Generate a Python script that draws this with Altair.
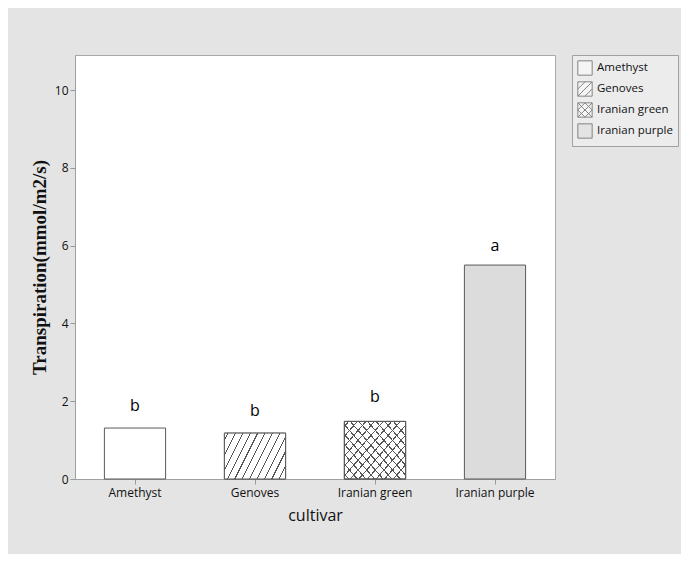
import math
import altair as alt
import pandas as pd

# ---- data ----
cultivars = ["Amethyst", "Genoves", "Iranian green", "Iranian purple"]
transpiration = [1.31, 1.18, 1.48, 5.50]
letters = ["b", "b", "b", "a"]
letter_y = [1.88, 1.74, 2.11, 6.00]
fills = ["#ffffff", "#ffffff", "#ffffff", "#dcdcdc"]
y_ticks = [0, 2, 4, 6, 8, 10]

# legend symbol outlines (square, square + "/" hatch, square + cross hatch, square)
shapes = [
    "square",
    "M-1,-1H1V1H-1Z M-1,1L1,-1 M-1,0L0,-1 M0,1L1,0",
    "M-1,-1H1V1H-1Z M-1,-1L1,1 M-1,1L1,-1 M0,-1L1,0 M1,0L0,1 M0,1L-1,0 M-1,0L0,-1",
    "square",
]

df = pd.DataFrame({
    "cultivar": cultivars,
    "value": transpiration,
    "letter": letters,
    "letter_y": letter_y,
})

W, H = 480, 424
Y_MAX = 10.9
P_IN, P_OUT = 0.49, 0.245
PPU = H / Y_MAX
STEP = W / (len(cultivars) - P_IN + 2 * P_OUT)
BW = STEP * (1 - P_IN)
EDGE = "#5a5a5a"


def hatch(value, k, spacing, direction, bg, fg, lw=1.0):
    """Striped linear gradient (bounding-box units) imitating a hatch fill.
    direction "up" gives / lines, "down" gives \\ lines."""
    w = BW
    h = value * PPU
    if direction == "up":
        dx, dy = k / h, 1 / w
        c = (k / h + 1 / w) / (dx * dx + dy * dy)
        x1, y1, x2, y2 = 0, 0, c * dx, c * dy
    else:
        dx, dy = k / h, -1 / w
        c = (k / h + 1 / w) / (dx * dx + dy * dy)
        x1, y1, x2, y2 = 0, 1, c * dx, 1 + c * dy
    span = w + h / k
    e = (lw / math.sin(math.atan(k))) / span / 2
    stops = [{"offset": 0, "color": bg}]
    p = spacing / 2
    while p + spacing / 2 < span:
        t = p / span
        a, b = round(t - e, 5), round(t + e, 5)
        stops += [
            {"offset": a, "color": bg},
            {"offset": a, "color": fg},
            {"offset": b, "color": fg},
            {"offset": b, "color": bg},
        ]
        p += spacing
    stops.append({"offset": 1, "color": bg})
    return {"gradient": "linear", "stops": stops,
            "x1": x1, "y1": y1, "x2": x2, "y2": y2}


x_enc = alt.X(
    "cultivar:N",
    sort=cultivars,
    scale=alt.Scale(domain=cultivars, paddingInner=P_IN, paddingOuter=P_OUT),
    axis=alt.Axis(
        title="cultivar", labelAngle=0, tickSize=5, labelPadding=3,
        titlePadding=9, titleFont="Open Sans", titleFontSize=16,
        titleFontWeight="normal",
    ),
)

y_scale = alt.Scale(domain=[0, Y_MAX], nice=False, zero=True)
y_axis = alt.Axis(
    title="Transpiration(mmol/m2/s)", values=y_ticks, format="d",
    tickSize=5, labelPadding=2, titleFont="Liberation Serif",
    titleFontSize=19, titleFontWeight="bold", titlePadding=5, grid=False,
)
y_val = alt.Y("value:Q", scale=y_scale, axis=y_axis)

legend = alt.Legend(
    title=None, orient="none", legendX=497, legendY=0,
    symbolSize=205, symbolStrokeColor=EDGE, symbolStrokeWidth=1,
    labelFont="Open Sans", labelFontSize=11.5,
    labelColor="#111111", labelOffset=4, padding=5, rowPadding=1,
    fillColor="#ececec", strokeColor="#a0a0a0",
)

base = alt.Chart(df)

# points that only carry the (fill + shape) legend; hidden behind the bars
legend_pts = base.transform_calculate(mid="datum.value / 2").mark_point(
    filled=True, size=205, strokeWidth=1
).encode(
    x=x_enc,
    y=alt.Y("mid:Q", scale=y_scale, axis=y_axis),
    fill=alt.Fill("cultivar:N", scale=alt.Scale(domain=cultivars, range=fills),
                  legend=legend),
    shape=alt.Shape("cultivar:N", scale=alt.Scale(domain=cultivars, range=shapes),
                    legend=legend),
    stroke=alt.Stroke("cultivar:N",
                      scale=alt.Scale(domain=cultivars, range=[EDGE] * len(cultivars)),
                      legend=legend),
)

bars = base.mark_bar(stroke=EDGE, strokeWidth=1).encode(
    x=x_enc, y=y_val,
    fill=alt.condition(alt.datum.cultivar == cultivars[3],
                       alt.value(fills[3]), alt.value(fills[0])),
)

gen_val = transpiration[cultivars.index("Genoves")]
grn_val = transpiration[cultivars.index("Iranian green")]

genoves = base.transform_filter(alt.datum.cultivar == "Genoves").mark_bar(
    fill=hatch(gen_val, 2.0, 7.4, "up", "#ffffff", "#555555"),
    stroke=EDGE, strokeWidth=1,
).encode(x=x_enc, y=y_val)

green1 = base.transform_filter(alt.datum.cultivar == "Iranian green").mark_bar(
    fill=hatch(grn_val, 1.15, 8.6, "up", "#ffffff", "#555555"),
    stroke=EDGE, strokeWidth=1,
).encode(x=x_enc, y=y_val)

green2 = base.transform_filter(alt.datum.cultivar == "Iranian green").mark_bar(
    fill=hatch(grn_val, 1.15, 8.6, "down", "rgba(255,255,255,0)", "#555555"),
    stroke=EDGE, strokeWidth=1,
).encode(x=x_enc, y=y_val)

labels = base.mark_text(
    font="Open Sans", fontSize=16, color="#000000", baseline="middle"
).encode(
    x=x_enc,
    y=alt.Y("letter_y:Q", scale=y_scale, axis=y_axis),
    text="letter:N",
)

chart = (
    alt.layer(legend_pts, bars, genoves, green1, green2, labels)
    .properties(
        width=W, height=H,
        autosize=alt.AutoSizeParams(type="none"),
        padding={"left": 67, "top": 47, "right": 126, "bottom": 75},
        background="#e4e4e4",
    )
    .configure_view(fill="white", stroke="#a8a8a8", strokeWidth=1)
    .configure_axis(
        domainColor="#a0a0a0", tickColor="#999999", labelFont="Open Sans",
        labelFontSize=12, labelColor="#111111", titleColor="#111111",
    )
)

chart.save("out.html", embed_options={"renderer": "svg", "actions": False})
